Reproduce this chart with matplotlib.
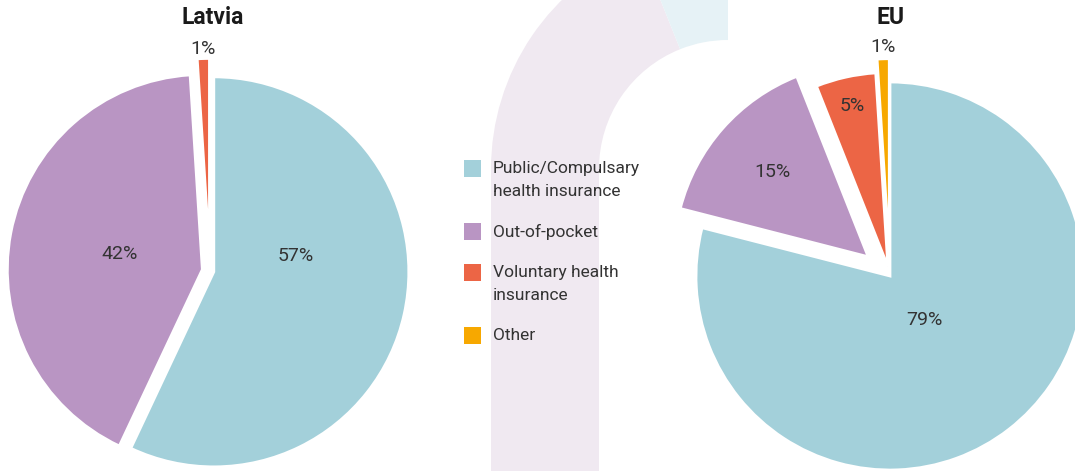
import numpy as np
import matplotlib
matplotlib.use('Agg')
import matplotlib.pyplot as plt
from matplotlib.patches import Wedge, Rectangle

plt.rcParams['font.family'] = ['Roboto', 'DejaVu Sans']

categories = ['Public/Compulsary\nhealth insurance', 'Out-of-pocket',
              'Voluntary health\ninsurance', 'Other']
colors = ['#a3d0da', '#b995c3', '#ec6545', '#f7a800']

latvia_values = [57, 42, 1]
latvia_labels = ['57%', '42%', '1%']
eu_values = [79, 15, 5, 1]
eu_labels = ['79%', '15%', '5%', '1%']

TEXT = '#333333'
W, H = 1075, 471
fig = plt.figure(figsize=(W / 100, H / 100), dpi=100)

# decorative arch in the background (pixel coords, y up)
bg = fig.add_axes([0, 0, 1, 1])
bg.set_xlim(0, W)
bg.set_ylim(0, H)
bg.axis('off')
bg.add_patch(Wedge((728, 302), 237, 111.8, 180, width=108, color='#f0e9f1', lw=0))
bg.add_patch(Wedge((728, 302), 237, 90, 111.8, width=108, color='#e6f2f6', lw=0))
bg.add_patch(Rectangle((491, 0), 108, 302, color='#f0e9f1', lw=0))


def pie_axes(cx, cy, r, left, width):
    ax = fig.add_axes([left / W, 0, width / W, 1])
    return ax, ((left - cx) / r, (left + width - cx) / r), (-cy / r, (H - cy) / r)


def draw_pie(ax, xl, yl, values, cols, explode, labels, label_pos):
    wedges, _ = ax.pie(values, colors=cols, startangle=90, counterclock=False,
                       explode=explode,
                       wedgeprops=dict(edgecolor='white', linewidth=2))
    ax.set_aspect('auto')
    ax.set_xlim(*xl)
    ax.set_ylim(*yl)
    ax.axis('off')
    for w, lab, (d, ang) in zip(wedges, labels, label_pos):
        if ang is None:
            ang = (w.theta1 + w.theta2) / 2
        th = np.deg2rad(ang)
        ax.text(w.center[0] + d * w.r * np.cos(th), w.center[1] + d * w.r * np.sin(th),
                lab, ha='center', va='center', fontsize=14, color=TEXT)


ax1, xl, yl = pie_axes(210, 200, 195, 0, 430)
draw_pie(ax1, xl, yl, latvia_values, colors[:3], [0.02, 0.04, 0.09],
         latvia_labels, [(0.43, 11), (0.43, None), (1.05, None)])

ax2, xl, yl = pie_axes(890, 195, 194, 660, 415)
draw_pie(ax2, xl, yl, eu_values, colors, [0.0, 0.15, 0.05, 0.12],
         eu_labels, [(0.29, None), (0.66, None), (0.85, None), (1.06, None)])

fig.text(213 / W, 1 - 18 / H, 'Latvia', ha='center', va='center',
         fontsize=16.5, fontweight='bold', color='#1a1a1a')
fig.text(890 / W, 1 - 18 / H, 'EU', ha='center', va='center',
         fontsize=16.5, fontweight='bold', color='#1a1a1a')

# legend: squares and labels stacked from the top
line_h, gap = 22, 19
top = 160
for lab, c in zip(categories, colors):
    fig.patches.append(Rectangle((464 / W, 1 - (top + 17) / H), 17 / W, 17 / H,
                                 transform=fig.transFigure, color=c, lw=0))
    fig.text(493 / W, 1 - (top + 1) / H, lab, ha='left', va='top', fontsize=12.5,
             color=TEXT, linespacing=1.7)
    top += line_h * (lab.count('\n') + 1) + gap

fig.savefig('out.png', dpi=100)
